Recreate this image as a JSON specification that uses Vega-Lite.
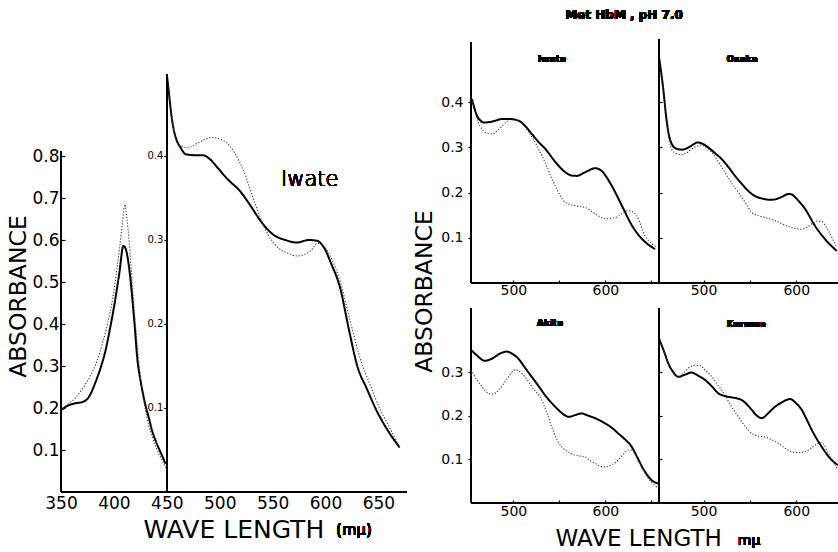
{
"$schema": "https://vega.github.io/schema/vega-lite/v6.json",
"width": 838, "height": 552, "autosize": "none", "padding": 0,
"config": {
  "view": {"stroke": null},
  "font": "DejaVu Sans",
  "axis": {"grid": false, "domain": false, "tickColor": "black", "tickWidth": 1.2, "labelColor": "black", "titleColor": "black", "labelFont": "DejaVu Sans", "titleFont": "DejaVu Sans", "titleFontWeight": "normal"},
  "rule": {"color": "black", "strokeWidth": 1.6},
  "line": {"interpolate": "monotone"}
},
"data": {"values": [
{"panel":"A","series":"solid","wl":350,"abs":0.195},{"panel":"A","series":"solid","wl":356,"abs":0.205},{"panel":"A","series":"solid","wl":363,"abs":0.211},{"panel":"A","series":"solid","wl":370,"abs":0.214},{"panel":"A","series":"solid","wl":376,"abs":0.225},{"panel":"A","series":"solid","wl":383,"abs":0.264},{"panel":"A","series":"solid","wl":388,"abs":0.3},{"panel":"A","series":"solid","wl":392,"abs":0.336},{"panel":"A","series":"solid","wl":396,"abs":0.385},{"panel":"A","series":"solid","wl":400,"abs":0.439},{"panel":"A","series":"solid","wl":405,"abs":0.519},{"panel":"A","series":"solid","wl":409,"abs":0.586},{"panel":"A","series":"solid","wl":411,"abs":0.58},{"panel":"A","series":"solid","wl":413,"abs":0.558},{"panel":"A","series":"solid","wl":415.5,"abs":0.51},{"panel":"A","series":"solid","wl":417.6,"abs":0.455},{"panel":"A","series":"solid","wl":420,"abs":0.385},{"panel":"A","series":"solid","wl":422,"abs":0.32},{"panel":"A","series":"solid","wl":424.5,"abs":0.275},{"panel":"A","series":"solid","wl":427,"abs":0.24},{"panel":"A","series":"solid","wl":430,"abs":0.205},{"panel":"A","series":"solid","wl":433,"abs":0.177},{"panel":"A","series":"solid","wl":436,"abs":0.147},{"panel":"A","series":"solid","wl":439.6,"abs":0.121},{"panel":"A","series":"solid","wl":444,"abs":0.095},{"panel":"A","series":"solid","wl":449,"abs":0.067},
{"panel":"A","series":"dotted","wl":350,"abs":0.195},{"panel":"A","series":"dotted","wl":357,"abs":0.21},{"panel":"A","series":"dotted","wl":364,"abs":0.225},{"panel":"A","series":"dotted","wl":370,"abs":0.245},{"panel":"A","series":"dotted","wl":376.7,"abs":0.272},{"panel":"A","series":"dotted","wl":383,"abs":0.305},{"panel":"A","series":"dotted","wl":389,"abs":0.352},{"panel":"A","series":"dotted","wl":394,"abs":0.4},{"panel":"A","series":"dotted","wl":399,"abs":0.463},{"panel":"A","series":"dotted","wl":402,"abs":0.515},{"panel":"A","series":"dotted","wl":405,"abs":0.574},{"panel":"A","series":"dotted","wl":408,"abs":0.64},{"panel":"A","series":"dotted","wl":410.4,"abs":0.685},{"panel":"A","series":"dotted","wl":412.5,"abs":0.645},{"panel":"A","series":"dotted","wl":414.4,"abs":0.598},{"panel":"A","series":"dotted","wl":417,"abs":0.51},{"panel":"A","series":"dotted","wl":419,"abs":0.439},{"panel":"A","series":"dotted","wl":421.5,"abs":0.365},{"panel":"A","series":"dotted","wl":424,"abs":0.296},{"panel":"A","series":"dotted","wl":427,"abs":0.237},{"panel":"A","series":"dotted","wl":430,"abs":0.193},{"panel":"A","series":"dotted","wl":433,"abs":0.158},{"panel":"A","series":"dotted","wl":436.5,"abs":0.129},{"panel":"A","series":"dotted","wl":440,"abs":0.105},{"panel":"A","series":"dotted","wl":442.7,"abs":0.09},{"panel":"A","series":"dotted","wl":446,"abs":0.073},{"panel":"A","series":"dotted","wl":449,"abs":0.058},
{"panel":"B","series":"solid","wl":450,"abs":0.497},{"panel":"B","series":"solid","wl":452,"abs":0.475},{"panel":"B","series":"solid","wl":454,"abs":0.452},{"panel":"B","series":"solid","wl":456,"abs":0.435},{"panel":"B","series":"solid","wl":459,"abs":0.42},{"panel":"B","series":"solid","wl":463,"abs":0.41},{"panel":"B","series":"solid","wl":468,"abs":0.402},{"panel":"B","series":"solid","wl":476,"abs":0.401},{"panel":"B","series":"solid","wl":484,"abs":0.401},{"panel":"B","series":"solid","wl":490,"abs":0.397},{"panel":"B","series":"solid","wl":498,"abs":0.386},{"panel":"B","series":"solid","wl":507,"abs":0.373},{"panel":"B","series":"solid","wl":520,"abs":0.357},{"panel":"B","series":"solid","wl":529,"abs":0.341},{"panel":"B","series":"solid","wl":539,"abs":0.322},{"panel":"B","series":"solid","wl":551,"abs":0.306},{"panel":"B","series":"solid","wl":562,"abs":0.3},{"panel":"B","series":"solid","wl":573,"abs":0.297},{"panel":"B","series":"solid","wl":584,"abs":0.3},{"panel":"B","series":"solid","wl":592,"abs":0.299},{"panel":"B","series":"solid","wl":599,"abs":0.29},{"panel":"B","series":"solid","wl":605,"abs":0.273},{"panel":"B","series":"solid","wl":614,"abs":0.242},{"panel":"B","series":"solid","wl":622,"abs":0.194},{"panel":"B","series":"solid","wl":630,"abs":0.15},{"panel":"B","series":"solid","wl":639,"abs":0.123},{"panel":"B","series":"solid","wl":649,"abs":0.095},{"panel":"B","series":"solid","wl":658,"abs":0.075},{"panel":"B","series":"solid","wl":670,"abs":0.053},
{"panel":"B","series":"dotted","wl":450,"abs":0.497},{"panel":"B","series":"dotted","wl":452,"abs":0.475},{"panel":"B","series":"dotted","wl":454,"abs":0.452},{"panel":"B","series":"dotted","wl":456,"abs":0.435},{"panel":"B","series":"dotted","wl":459,"abs":0.418},{"panel":"B","series":"dotted","wl":463,"abs":0.412},{"panel":"B","series":"dotted","wl":470,"abs":0.41},{"panel":"B","series":"dotted","wl":480,"abs":0.416},{"panel":"B","series":"dotted","wl":492,"abs":0.422},{"panel":"B","series":"dotted","wl":504,"abs":0.418},{"panel":"B","series":"dotted","wl":514,"abs":0.404},{"panel":"B","series":"dotted","wl":523,"abs":0.381},{"panel":"B","series":"dotted","wl":533,"abs":0.345},{"panel":"B","series":"dotted","wl":543,"abs":0.313},{"panel":"B","series":"dotted","wl":555,"abs":0.291},{"panel":"B","series":"dotted","wl":565,"abs":0.284},{"panel":"B","series":"dotted","wl":573,"abs":0.281},{"panel":"B","series":"dotted","wl":586,"abs":0.287},{"panel":"B","series":"dotted","wl":592,"abs":0.296},{"panel":"B","series":"dotted","wl":599,"abs":0.292},{"panel":"B","series":"dotted","wl":606,"abs":0.277},{"panel":"B","series":"dotted","wl":614,"abs":0.25},{"panel":"B","series":"dotted","wl":623,"abs":0.205},{"panel":"B","series":"dotted","wl":633,"abs":0.158},{"panel":"B","series":"dotted","wl":642,"abs":0.128},{"panel":"B","series":"dotted","wl":651,"abs":0.1},{"panel":"B","series":"dotted","wl":660,"abs":0.078},{"panel":"B","series":"dotted","wl":670,"abs":0.053},
{"panel":"Iwate","series":"solid","wl":455,"abs":0.407},{"panel":"Iwate","series":"solid","wl":458,"abs":0.385},{"panel":"Iwate","series":"solid","wl":460.5,"abs":0.37},{"panel":"Iwate","series":"solid","wl":464,"abs":0.36},{"panel":"Iwate","series":"solid","wl":467.7,"abs":0.355},{"panel":"Iwate","series":"solid","wl":474,"abs":0.356},{"panel":"Iwate","series":"solid","wl":480,"abs":0.359},{"panel":"Iwate","series":"solid","wl":488,"abs":0.363},{"panel":"Iwate","series":"solid","wl":495,"abs":0.363},{"panel":"Iwate","series":"solid","wl":506,"abs":0.359},{"panel":"Iwate","series":"solid","wl":513,"abs":0.347},{"panel":"Iwate","series":"solid","wl":520,"abs":0.33},{"panel":"Iwate","series":"solid","wl":527,"abs":0.313},{"panel":"Iwate","series":"solid","wl":535,"abs":0.296},{"panel":"Iwate","series":"solid","wl":546,"abs":0.267},{"panel":"Iwate","series":"solid","wl":556.5,"abs":0.245},{"panel":"Iwate","series":"solid","wl":563,"abs":0.238},{"panel":"Iwate","series":"solid","wl":569,"abs":0.237},{"panel":"Iwate","series":"solid","wl":578,"abs":0.245},{"panel":"Iwate","series":"solid","wl":589,"abs":0.254},{"panel":"Iwate","series":"solid","wl":596,"abs":0.248},{"panel":"Iwate","series":"solid","wl":601,"abs":0.235},{"panel":"Iwate","series":"solid","wl":607,"abs":0.215},{"panel":"Iwate","series":"solid","wl":618,"abs":0.171},{"panel":"Iwate","series":"solid","wl":629,"abs":0.127},{"panel":"Iwate","series":"solid","wl":640,"abs":0.097},{"panel":"Iwate","series":"solid","wl":648,"abs":0.083},{"panel":"Iwate","series":"solid","wl":654,"abs":0.075},
{"panel":"Iwate","series":"dotted","wl":455,"abs":0.407},{"panel":"Iwate","series":"dotted","wl":458,"abs":0.38},{"panel":"Iwate","series":"dotted","wl":462,"abs":0.355},{"panel":"Iwate","series":"dotted","wl":466,"abs":0.34},{"panel":"Iwate","series":"dotted","wl":469.6,"abs":0.333},{"panel":"Iwate","series":"dotted","wl":477,"abs":0.33},{"panel":"Iwate","series":"dotted","wl":483,"abs":0.338},{"panel":"Iwate","series":"dotted","wl":488,"abs":0.348},{"panel":"Iwate","series":"dotted","wl":493,"abs":0.357},{"panel":"Iwate","series":"dotted","wl":498.6,"abs":0.363},{"panel":"Iwate","series":"dotted","wl":506,"abs":0.359},{"panel":"Iwate","series":"dotted","wl":513,"abs":0.345},{"panel":"Iwate","series":"dotted","wl":517,"abs":0.333},{"panel":"Iwate","series":"dotted","wl":524,"abs":0.31},{"panel":"Iwate","series":"dotted","wl":531,"abs":0.282},{"panel":"Iwate","series":"dotted","wl":537,"abs":0.255},{"panel":"Iwate","series":"dotted","wl":542,"abs":0.23},{"panel":"Iwate","series":"dotted","wl":548,"abs":0.205},{"panel":"Iwate","series":"dotted","wl":553,"abs":0.186},{"panel":"Iwate","series":"dotted","wl":560,"abs":0.175},{"panel":"Iwate","series":"dotted","wl":567,"abs":0.171},{"panel":"Iwate","series":"dotted","wl":578,"abs":0.167},{"panel":"Iwate","series":"dotted","wl":589,"abs":0.153},{"panel":"Iwate","series":"dotted","wl":600,"abs":0.142},{"panel":"Iwate","series":"dotted","wl":611,"abs":0.145},{"panel":"Iwate","series":"dotted","wl":618,"abs":0.153},{"panel":"Iwate","series":"dotted","wl":625,"abs":0.16},{"panel":"Iwate","series":"dotted","wl":630,"abs":0.157},{"panel":"Iwate","series":"dotted","wl":634,"abs":0.149},{"panel":"Iwate","series":"dotted","wl":643,"abs":0.105},{"panel":"Iwate","series":"dotted","wl":650,"abs":0.088},{"panel":"Iwate","series":"dotted","wl":656,"abs":0.079},
{"panel":"Osaka","series":"solid","wl":452,"abs":0.5},{"panel":"Osaka","series":"solid","wl":456.6,"abs":0.429},{"panel":"Osaka","series":"solid","wl":460,"abs":0.363},{"panel":"Osaka","series":"solid","wl":463,"abs":0.325},{"panel":"Osaka","series":"solid","wl":465.7,"abs":0.308},{"panel":"Osaka","series":"solid","wl":470,"abs":0.298},{"panel":"Osaka","series":"solid","wl":476.5,"abs":0.295},{"panel":"Osaka","series":"solid","wl":482,"abs":0.298},{"panel":"Osaka","series":"solid","wl":487,"abs":0.304},{"panel":"Osaka","series":"solid","wl":494,"abs":0.311},{"panel":"Osaka","series":"solid","wl":499,"abs":0.308},{"panel":"Osaka","series":"solid","wl":505,"abs":0.3},{"panel":"Osaka","series":"solid","wl":512,"abs":0.288},{"panel":"Osaka","series":"solid","wl":519.6,"abs":0.274},{"panel":"Osaka","series":"solid","wl":527,"abs":0.256},{"panel":"Osaka","series":"solid","wl":534,"abs":0.237},{"panel":"Osaka","series":"solid","wl":541,"abs":0.22},{"panel":"Osaka","series":"solid","wl":548,"abs":0.204},{"panel":"Osaka","series":"solid","wl":555,"abs":0.193},{"panel":"Osaka","series":"solid","wl":563,"abs":0.187},{"panel":"Osaka","series":"solid","wl":573.6,"abs":0.184},{"panel":"Osaka","series":"solid","wl":584,"abs":0.19},{"panel":"Osaka","series":"solid","wl":591.5,"abs":0.197},{"panel":"Osaka","series":"solid","wl":595,"abs":0.196},{"panel":"Osaka","series":"solid","wl":598.7,"abs":0.19},{"panel":"Osaka","series":"solid","wl":604,"abs":0.178},{"panel":"Osaka","series":"solid","wl":609.5,"abs":0.164},{"panel":"Osaka","series":"solid","wl":620,"abs":0.127},{"panel":"Osaka","series":"solid","wl":631,"abs":0.097},{"panel":"Osaka","series":"solid","wl":643.7,"abs":0.071},
{"panel":"Osaka","series":"dotted","wl":452,"abs":0.5},{"panel":"Osaka","series":"dotted","wl":456.6,"abs":0.429},{"panel":"Osaka","series":"dotted","wl":460,"abs":0.36},{"panel":"Osaka","series":"dotted","wl":463,"abs":0.315},{"panel":"Osaka","series":"dotted","wl":465.7,"abs":0.296},{"panel":"Osaka","series":"dotted","wl":471,"abs":0.286},{"panel":"Osaka","series":"dotted","wl":476.5,"abs":0.284},{"panel":"Osaka","series":"dotted","wl":482,"abs":0.288},{"panel":"Osaka","series":"dotted","wl":487,"abs":0.296},{"panel":"Osaka","series":"dotted","wl":492,"abs":0.302},{"panel":"Osaka","series":"dotted","wl":498,"abs":0.305},{"panel":"Osaka","series":"dotted","wl":503,"abs":0.299},{"panel":"Osaka","series":"dotted","wl":509,"abs":0.289},{"panel":"Osaka","series":"dotted","wl":516,"abs":0.268},{"panel":"Osaka","series":"dotted","wl":523,"abs":0.245},{"panel":"Osaka","series":"dotted","wl":530,"abs":0.222},{"panel":"Osaka","series":"dotted","wl":537.5,"abs":0.201},{"panel":"Osaka","series":"dotted","wl":545,"abs":0.178},{"panel":"Osaka","series":"dotted","wl":552,"abs":0.156},{"panel":"Osaka","series":"dotted","wl":559,"abs":0.149},{"panel":"Osaka","series":"dotted","wl":566,"abs":0.145},{"panel":"Osaka","series":"dotted","wl":577,"abs":0.138},{"panel":"Osaka","series":"dotted","wl":591.5,"abs":0.125},{"panel":"Osaka","series":"dotted","wl":606,"abs":0.119},{"panel":"Osaka","series":"dotted","wl":612,"abs":0.124},{"panel":"Osaka","series":"dotted","wl":617,"abs":0.131},{"panel":"Osaka","series":"dotted","wl":623,"abs":0.137},{"panel":"Osaka","series":"dotted","wl":627.5,"abs":0.136},{"panel":"Osaka","series":"dotted","wl":631,"abs":0.128},{"panel":"Osaka","series":"dotted","wl":634.7,"abs":0.116},{"panel":"Osaka","series":"dotted","wl":640,"abs":0.094},{"panel":"Osaka","series":"dotted","wl":643.7,"abs":0.079},
{"panel":"Akita","series":"solid","wl":454,"abs":0.352},{"panel":"Akita","series":"solid","wl":460,"abs":0.34},{"panel":"Akita","series":"solid","wl":469,"abs":0.327},{"panel":"Akita","series":"solid","wl":475,"abs":0.33},{"panel":"Akita","series":"solid","wl":480,"abs":0.336},{"panel":"Akita","series":"solid","wl":486,"abs":0.344},{"panel":"Akita","series":"solid","wl":493,"abs":0.348},{"panel":"Akita","series":"solid","wl":499,"abs":0.343},{"panel":"Akita","series":"solid","wl":505,"abs":0.333},{"panel":"Akita","series":"solid","wl":512,"abs":0.313},{"panel":"Akita","series":"solid","wl":520,"abs":0.29},{"panel":"Akita","series":"solid","wl":527,"abs":0.27},{"panel":"Akita","series":"solid","wl":534.4,"abs":0.248},{"panel":"Akita","series":"solid","wl":542,"abs":0.229},{"panel":"Akita","series":"solid","wl":549,"abs":0.214},{"panel":"Akita","series":"solid","wl":555,"abs":0.203},{"panel":"Akita","series":"solid","wl":560,"abs":0.198},{"panel":"Akita","series":"solid","wl":567,"abs":0.202},{"panel":"Akita","series":"solid","wl":574,"abs":0.206},{"panel":"Akita","series":"solid","wl":581,"abs":0.201},{"panel":"Akita","series":"solid","wl":588.8,"abs":0.195},{"panel":"Akita","series":"solid","wl":599.7,"abs":0.183},{"panel":"Akita","series":"solid","wl":607,"abs":0.173},{"panel":"Akita","series":"solid","wl":614,"abs":0.16},{"panel":"Akita","series":"solid","wl":621,"abs":0.147},{"panel":"Akita","series":"solid","wl":628.7,"abs":0.129},{"panel":"Akita","series":"solid","wl":634,"abs":0.108},{"panel":"Akita","series":"solid","wl":640,"abs":0.083},{"panel":"Akita","series":"solid","wl":645,"abs":0.066},{"panel":"Akita","series":"solid","wl":650,"abs":0.053},{"panel":"Akita","series":"solid","wl":657.6,"abs":0.045},
{"panel":"Akita","series":"dotted","wl":454,"abs":0.306},{"panel":"Akita","series":"dotted","wl":460,"abs":0.285},{"panel":"Akita","series":"dotted","wl":466,"abs":0.267},{"panel":"Akita","series":"dotted","wl":471,"abs":0.255},{"panel":"Akita","series":"dotted","wl":476.5,"abs":0.25},{"panel":"Akita","series":"dotted","wl":482,"abs":0.255},{"panel":"Akita","series":"dotted","wl":487,"abs":0.267},{"panel":"Akita","series":"dotted","wl":494,"abs":0.288},{"panel":"Akita","series":"dotted","wl":502,"abs":0.306},{"panel":"Akita","series":"dotted","wl":507,"abs":0.302},{"panel":"Akita","series":"dotted","wl":512.7,"abs":0.29},{"panel":"Akita","series":"dotted","wl":521,"abs":0.265},{"panel":"Akita","series":"dotted","wl":530.8,"abs":0.237},{"panel":"Akita","series":"dotted","wl":536,"abs":0.21},{"panel":"Akita","series":"dotted","wl":541.7,"abs":0.175},{"panel":"Akita","series":"dotted","wl":547,"abs":0.148},{"panel":"Akita","series":"dotted","wl":552.6,"abs":0.129},{"panel":"Akita","series":"dotted","wl":560,"abs":0.117},{"panel":"Akita","series":"dotted","wl":567,"abs":0.11},{"panel":"Akita","series":"dotted","wl":578,"abs":0.106},{"panel":"Akita","series":"dotted","wl":583,"abs":0.098},{"panel":"Akita","series":"dotted","wl":588.8,"abs":0.091},{"panel":"Akita","series":"dotted","wl":594,"abs":0.085},{"panel":"Akita","series":"dotted","wl":599.7,"abs":0.083},{"panel":"Akita","series":"dotted","wl":607,"abs":0.088},{"panel":"Akita","series":"dotted","wl":614,"abs":0.099},{"panel":"Akita","series":"dotted","wl":620,"abs":0.113},{"panel":"Akita","series":"dotted","wl":625,"abs":0.122},{"panel":"Akita","series":"dotted","wl":629,"abs":0.121},{"panel":"Akita","series":"dotted","wl":632,"abs":0.114},{"panel":"Akita","series":"dotted","wl":637,"abs":0.093},{"panel":"Akita","series":"dotted","wl":643,"abs":0.068},{"panel":"Akita","series":"dotted","wl":650,"abs":0.048},{"panel":"Akita","series":"dotted","wl":657.6,"abs":0.034},
{"panel":"Kurume","series":"solid","wl":452,"abs":0.378},{"panel":"Kurume","series":"solid","wl":458,"abs":0.345},{"panel":"Kurume","series":"solid","wl":462,"abs":0.321},{"panel":"Kurume","series":"solid","wl":467,"abs":0.302},{"panel":"Kurume","series":"solid","wl":472.8,"abs":0.29},{"panel":"Kurume","series":"solid","wl":480,"abs":0.295},{"panel":"Kurume","series":"solid","wl":487,"abs":0.3},{"panel":"Kurume","series":"solid","wl":494,"abs":0.293},{"panel":"Kurume","series":"solid","wl":501.6,"abs":0.283},{"panel":"Kurume","series":"solid","wl":509,"abs":0.268},{"panel":"Kurume","series":"solid","wl":516,"abs":0.252},{"panel":"Kurume","series":"solid","wl":523,"abs":0.246},{"panel":"Kurume","series":"solid","wl":530,"abs":0.243},{"panel":"Kurume","series":"solid","wl":537,"abs":0.24},{"panel":"Kurume","series":"solid","wl":541,"abs":0.237},{"panel":"Kurume","series":"solid","wl":547,"abs":0.226},{"panel":"Kurume","series":"solid","wl":552,"abs":0.214},{"panel":"Kurume","series":"solid","wl":558,"abs":0.2},{"panel":"Kurume","series":"solid","wl":562.8,"abs":0.195},{"panel":"Kurume","series":"solid","wl":570,"abs":0.207},{"panel":"Kurume","series":"solid","wl":577,"abs":0.221},{"panel":"Kurume","series":"solid","wl":585,"abs":0.232},{"panel":"Kurume","series":"solid","wl":593,"abs":0.239},{"panel":"Kurume","series":"solid","wl":600,"abs":0.229},{"panel":"Kurume","series":"solid","wl":606,"abs":0.214},{"panel":"Kurume","series":"solid","wl":611,"abs":0.193},{"panel":"Kurume","series":"solid","wl":616.7,"abs":0.168},{"panel":"Kurume","series":"solid","wl":627.5,"abs":0.129},{"panel":"Kurume","series":"solid","wl":638,"abs":0.099},{"panel":"Kurume","series":"solid","wl":645,"abs":0.087},
{"panel":"Kurume","series":"dotted","wl":452,"abs":0.378},{"panel":"Kurume","series":"dotted","wl":458,"abs":0.345},{"panel":"Kurume","series":"dotted","wl":462,"abs":0.321},{"panel":"Kurume","series":"dotted","wl":467,"abs":0.302},{"panel":"Kurume","series":"dotted","wl":472.8,"abs":0.29},{"panel":"Kurume","series":"dotted","wl":478,"abs":0.298},{"panel":"Kurume","series":"dotted","wl":483.6,"abs":0.31},{"panel":"Kurume","series":"dotted","wl":490,"abs":0.316},{"panel":"Kurume","series":"dotted","wl":496,"abs":0.316},{"panel":"Kurume","series":"dotted","wl":502,"abs":0.305},{"panel":"Kurume","series":"dotted","wl":509,"abs":0.29},{"panel":"Kurume","series":"dotted","wl":516,"abs":0.27},{"panel":"Kurume","series":"dotted","wl":523,"abs":0.248},{"panel":"Kurume","series":"dotted","wl":530,"abs":0.222},{"panel":"Kurume","series":"dotted","wl":537.5,"abs":0.198},{"panel":"Kurume","series":"dotted","wl":545,"abs":0.176},{"panel":"Kurume","series":"dotted","wl":552,"abs":0.16},{"panel":"Kurume","series":"dotted","wl":559,"abs":0.154},{"panel":"Kurume","series":"dotted","wl":566,"abs":0.152},{"panel":"Kurume","series":"dotted","wl":573,"abs":0.146},{"panel":"Kurume","series":"dotted","wl":580.7,"abs":0.137},{"panel":"Kurume","series":"dotted","wl":588,"abs":0.126},{"panel":"Kurume","series":"dotted","wl":595,"abs":0.118},{"panel":"Kurume","series":"dotted","wl":602,"abs":0.116},{"panel":"Kurume","series":"dotted","wl":609.5,"abs":0.118},{"panel":"Kurume","series":"dotted","wl":617,"abs":0.128},{"panel":"Kurume","series":"dotted","wl":626,"abs":0.139},{"panel":"Kurume","series":"dotted","wl":630,"abs":0.134},{"panel":"Kurume","series":"dotted","wl":634.6,"abs":0.114},{"panel":"Kurume","series":"dotted","wl":640,"abs":0.094},{"panel":"Kurume","series":"dotted","wl":645,"abs":0.076}
]},
"resolve": {"scale": {"x": "independent", "y": "independent"}, "axis": {"x": "independent", "y": "independent"}},
"layer": [
 {"layer": [
   {"transform": [{"filter": "datum.panel === 'A'"}],
    "mark": "line",
    "encoding": {
      "x": {"field": "wl", "type": "quantitative", "scale": {"domain": [292.35, 1084.33], "nice": false, "zero": false},
            "axis": {"orient": "bottom", "offset": -60, "values": [350,400,450,500,550,600,650], "labelFontSize": 17, "ticks": false, "labelPadding": 3, "title": "WAVE LENGTH", "titleFontSize": 25, "titleAlign": "left", "titleX": 143, "titleY": 25}},
      "y": {"field": "abs", "type": "quantitative", "scale": {"domain": [-0.142857, 1.171429], "nice": false, "zero": false},
            "axis": {"orient": "left", "offset": -61, "values": [0.1,0.2,0.3,0.4,0.5,0.6,0.7,0.8], "format": ".1f", "labelFontSize": 17, "tickSize": -4, "labelPadding": 6, "title": "ABSORBANCE", "titleFontSize": 23.5, "titleX": -31, "titleY": 296}},
      "strokeDash": {"field": "series", "type": "nominal", "scale": {"domain": ["solid","dotted"], "range": [[1,0],[1.2,1.8]]}, "legend": null},
      "strokeWidth": {"field": "series", "type": "nominal", "scale": {"domain": ["solid","dotted"], "range": [2,1.1]}, "legend": null},
      "color": {"field": "series", "type": "nominal", "scale": {"domain": ["solid","dotted"], "range": ["#000000","#333333"]}, "legend": null}
    }},
   {"mark": "rule", "encoding": {"x": {"datum": 350}, "y": {"datum": 0}, "y2": {"datum": 0.81}}},
   {"mark": "rule", "encoding": {"x": {"datum": 350}, "x2": {"datum": 677}, "y": {"datum": 0}}}
 ]},
 {"layer": [
   {"transform": [{"filter": "datum.panel === 'B'"}],
    "mark": "line",
    "encoding": {
      "x": {"field": "wl", "type": "quantitative", "scale": {"domain": [292.35, 1084.33], "nice": false, "zero": false}, "axis": null},
      "y": {"field": "abs", "type": "quantitative", "scale": {"domain": [-0.0714286, 0.585714], "nice": false, "zero": false},
            "axis": {"orient": "left", "offset": -166.8, "values": [0.1,0.2,0.3,0.4], "format": ".1f", "labelFontSize": 10, "tickSize": 3, "labelPadding": 1, "title": null}},
      "strokeDash": {"field": "series", "type": "nominal", "scale": {"domain": ["solid","dotted"], "range": [[1,0],[1.2,1.8]]}, "legend": null},
      "strokeWidth": {"field": "series", "type": "nominal", "scale": {"domain": ["solid","dotted"], "range": [2,1.1]}, "legend": null},
      "color": {"field": "series", "type": "nominal", "scale": {"domain": ["solid","dotted"], "range": ["#000000","#333333"]}, "legend": null}
    }},
   {"mark": "rule", "encoding": {"x": {"datum": 450}, "y": {"datum": 0}, "y2": {"datum": 0.497}}},
   {"mark": {"type": "text", "align": "left", "baseline": "middle", "fontSize": 21, "fontWeight": 300, "color": "black"},
    "encoding": {"x": {"datum": 558}, "y": {"datum": 0.371}, "text": {"value": "Iwate"}}},
   {"mark": {"type": "text", "align": "center", "baseline": "middle", "fontSize": 15, "color": "black"},
    "encoding": {"x": {"datum": 626.9}, "y": {"datum": -0.0452}, "text": {"value": "(mμ)"}}}
 ]},
 {"layer": [
   {"transform": [{"filter": "datum.panel === 'Iwate'"}],
    "mark": "line",
    "encoding": {
      "x": {"field": "wl", "type": "quantitative", "scale": {"domain": [-57.84, 852.82], "nice": false, "zero": false},
            "axis": {"orient": "bottom", "offset": -269, "values": [500,550,600,650], "labelExpr": "datum.value % 100 === 0 ? datum.label : ''", "labelFontSize": 14, "tickSize": -3, "labelPadding": 3, "title": null}},
      "y": {"field": "abs", "type": "quantitative", "scale": {"domain": [-0.595133, 0.626106], "nice": false, "zero": false},
            "axis": {"orient": "left", "offset": -471, "values": [0.1,0.2,0.3,0.4], "format": ".1f", "labelFontSize": 14, "tickSize": 3, "labelPadding": 5, "title": null}},
      "strokeDash": {"field": "series", "type": "nominal", "scale": {"domain": ["solid","dotted"], "range": [[1,0],[1.2,1.8]]}, "legend": null},
      "strokeWidth": {"field": "series", "type": "nominal", "scale": {"domain": ["solid","dotted"], "range": [2,1.1]}, "legend": null},
      "color": {"field": "series", "type": "nominal", "scale": {"domain": ["solid","dotted"], "range": ["#000000","#333333"]}, "legend": null}
    }},
   {"mark": "rule", "encoding": {"x": {"datum": 454}, "y": {"datum": 0}, "y2": {"datum": 0.533}}},
   {"mark": "rule", "encoding": {"x": {"datum": 454}, "x2": {"datum": 658.3}, "y": {"datum": 0}}},
   {"mark": {"type": "text", "align": "center", "baseline": "middle", "fontSize": 9, "fontWeight": "bold", "color": "black"},
    "encoding": {"x": {"datum": 542}, "y": {"datum": 0.496}, "text": {"value": "Iwate"}}},
   {"mark": {"type": "text", "align": "center", "baseline": "middle", "fontSize": 12, "fontWeight": "bold", "color": "black"},
    "encoding": {"x": {"datum": 620.3}, "y": {"datum": 0.5929}, "text": {"value": "Met HbM , pH 7.0"}}}
 ]},
 {"layer": [
   {"transform": [{"filter": "datum.panel === 'Osaka'"}],
    "mark": "line",
    "encoding": {
      "x": {"field": "wl", "type": "quantitative", "scale": {"domain": [-258.54, 645], "nice": false, "zero": false},
            "axis": {"orient": "bottom", "offset": -269, "values": [500,550,600], "labelExpr": "datum.value % 100 === 0 ? datum.label : ''", "labelFontSize": 14, "tickSize": -3, "labelPadding": 3, "title": null}},
      "y": {"field": "abs", "type": "quantitative", "scale": {"domain": [-0.595133, 0.626106], "nice": false, "zero": false},
            "axis": {"orient": "left", "offset": -659, "values": [0.1,0.2,0.3,0.4], "labels": false, "tickSize": -3, "title": null}},
      "strokeDash": {"field": "series", "type": "nominal", "scale": {"domain": ["solid","dotted"], "range": [[1,0],[1.2,1.8]]}, "legend": null},
      "strokeWidth": {"field": "series", "type": "nominal", "scale": {"domain": ["solid","dotted"], "range": [2,1.1]}, "legend": null},
      "color": {"field": "series", "type": "nominal", "scale": {"domain": ["solid","dotted"], "range": ["#000000","#333333"]}, "legend": null}
    }},
   {"mark": "rule", "encoding": {"x": {"datum": 452}, "y": {"datum": 0}, "y2": {"datum": 0.54}}},
   {"mark": "rule", "encoding": {"x": {"datum": 452}, "x2": {"datum": 645}, "y": {"datum": 0}}},
   {"mark": {"type": "text", "align": "center", "baseline": "middle", "fontSize": 9, "fontWeight": "bold", "color": "black"},
    "encoding": {"x": {"datum": 541.5}, "y": {"datum": 0.496}, "text": {"value": "Osaka"}}}
 ]},
 {"layer": [
   {"transform": [{"filter": "datum.panel === 'Akita'"}],
    "mark": "line",
    "encoding": {
      "x": {"field": "wl", "type": "quantitative", "scale": {"domain": [-57.84, 852.82], "nice": false, "zero": false},
            "axis": {"orient": "bottom", "offset": -49, "values": [500,550,600,650], "labelExpr": "datum.value % 100 === 0 ? datum.label : ''", "labelFontSize": 14, "tickSize": -3, "labelPadding": 4, "title": "WAVE LENGTH", "titleFontSize": 23, "titleAlign": "left", "titleX": 555, "titleY": 24}},
      "y": {"field": "abs", "type": "quantitative", "scale": {"domain": [-0.112644, 1.156322], "nice": false, "zero": false},
            "axis": {"orient": "left", "offset": -471, "values": [0.1,0.2,0.3], "format": ".1f", "labelFontSize": 14, "tickSize": 3, "labelPadding": 5, "title": "ABSORBANCE", "titleFontSize": 23.5, "titleX": -35, "titleY": 291}},
      "strokeDash": {"field": "series", "type": "nominal", "scale": {"domain": ["solid","dotted"], "range": [[1,0],[1.2,1.8]]}, "legend": null},
      "strokeWidth": {"field": "series", "type": "nominal", "scale": {"domain": ["solid","dotted"], "range": [2,1.1]}, "legend": null},
      "color": {"field": "series", "type": "nominal", "scale": {"domain": ["solid","dotted"], "range": ["#000000","#333333"]}, "legend": null}
    }},
   {"mark": "rule", "encoding": {"x": {"datum": 454}, "y": {"datum": 0}, "y2": {"datum": 0.448}}},
   {"mark": "rule", "encoding": {"x": {"datum": 454}, "x2": {"datum": 658.3}, "y": {"datum": 0}}},
   {"mark": {"type": "text", "align": "center", "baseline": "middle", "fontSize": 9, "fontWeight": "bold", "color": "black"},
    "encoding": {"x": {"datum": 540}, "y": {"datum": 0.414}, "text": {"value": "Akita"}}}
 ]},
 {"layer": [
   {"transform": [{"filter": "datum.panel === 'Kurume'"}],
    "mark": "line",
    "encoding": {
      "x": {"field": "wl", "type": "quantitative", "scale": {"domain": [-258.54, 645], "nice": false, "zero": false},
            "axis": {"orient": "bottom", "offset": -49, "values": [500,550,600], "labelExpr": "datum.value % 100 === 0 ? datum.label : ''", "labelFontSize": 14, "tickSize": -3, "labelPadding": 4, "title": null}},
      "y": {"field": "abs", "type": "quantitative", "scale": {"domain": [-0.112644, 1.156322], "nice": false, "zero": false},
            "axis": {"orient": "left", "offset": -659, "values": [0.1,0.2,0.3], "labels": false, "tickSize": -3, "title": null}},
      "strokeDash": {"field": "series", "type": "nominal", "scale": {"domain": ["solid","dotted"], "range": [[1,0],[1.2,1.8]]}, "legend": null},
      "strokeWidth": {"field": "series", "type": "nominal", "scale": {"domain": ["solid","dotted"], "range": [2,1.1]}, "legend": null},
      "color": {"field": "series", "type": "nominal", "scale": {"domain": ["solid","dotted"], "range": ["#000000","#333333"]}, "legend": null}
    }},
   {"mark": "rule", "encoding": {"x": {"datum": 452}, "y": {"datum": 0}, "y2": {"datum": 0.448}}},
   {"mark": "rule", "encoding": {"x": {"datum": 452}, "x2": {"datum": 645}, "y": {"datum": 0}}},
   {"mark": {"type": "text", "align": "center", "baseline": "middle", "fontSize": 9, "fontWeight": "bold", "color": "black"},
    "encoding": {"x": {"datum": 546}, "y": {"datum": 0.411}, "text": {"value": "Kurume"}}},
   {"mark": {"type": "text", "align": "center", "baseline": "middle", "fontSize": 14, "color": "black"},
    "encoding": {"x": {"datum": 549}, "y": {"datum": -0.0874}, "text": {"value": "mμ"}}}
 ]}
]
}
